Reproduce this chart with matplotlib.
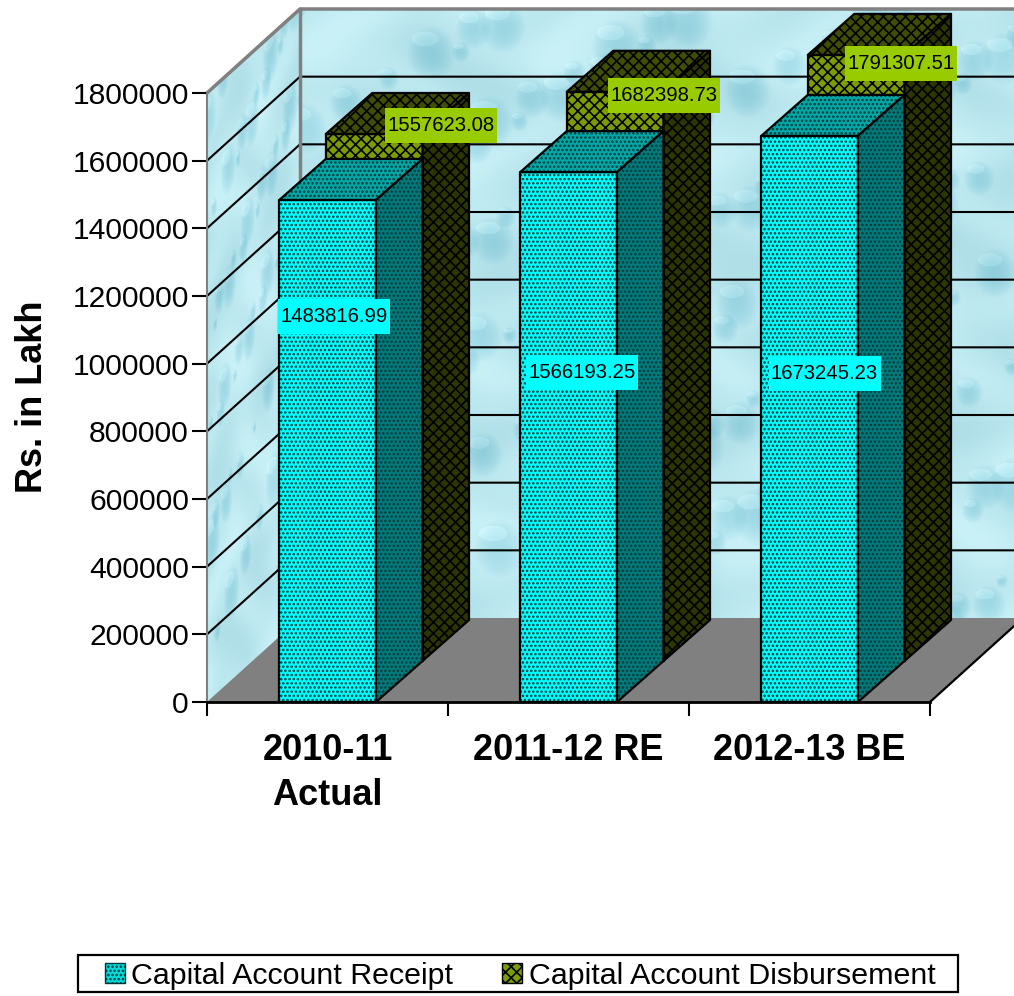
import numpy as np
import matplotlib
matplotlib.use("Agg")
import matplotlib.pyplot as plt
from matplotlib.patches import Polygon, Patch, Rectangle

plt.rcParams['font.family'] = ['Liberation Sans', 'DejaVu Sans']
plt.rcParams['hatch.linewidth'] = 1.2

categories = ["2010-11\nActual", "2011-12 RE", "2012-13 BE"]
receipt = [1483816.99, 1566193.25, 1673245.23]
disbursement = [1557623.08, 1682398.73, 1791307.51]
yticks = [0, 200000, 400000, 600000, 800000, 1000000, 1200000, 1400000, 1600000, 1800000]

# label centres, figure pixels
receipt_label_pos = [(334, 316.5), (582, 372.5), (824.5, 373.5)]
disb_label_pos = [(441, 125.5), (664, 95.5), (901, 63.5)]

W, H = 1014, 996
X0, X1, Y0, Y1 = 207, 930, 702, 93   # plot box in pixels
PX = 3 / (X1 - X0)                   # category units per pixel
PY = 1800000 / (Y0 - Y1)             # value units per pixel
WALL_DX, WALL_DY = 93 * PX, 84 * PY
BAR_DX, BAR_DY = 46.5 * PX, 41 * PY
BAR_W = 96.7 * PX
BAR_GAP = 72.3 * PX


def water(u, v):
    """light blue droplet texture, u and v in pixels"""
    img = np.ones(u.shape + (3,)) * np.array([0.74, 0.91, 0.94])
    # soft mottling
    m = np.sin(u / 37.0 + np.sin(v / 23.0)) * np.sin(v / 29.0 + np.sin(u / 41.0))
    img += m[..., None] * np.array([0.05, 0.035, 0.03])
    for i in range(170):
        cx = (i * 0.61803) % 1 * 760
        cy = (i * 0.75488) % 1 * 640
        r = 6 + (i * 0.4142) % 1 * 20
        d = ((u - cx) / r) ** 2 + ((v - cy) / (r * 1.15)) ** 2
        hi = ((u - cx + r * 0.25) / (r * 0.55)) ** 2 + ((v - cy + r * 0.6) / (r * 0.3)) ** 2
        shade = np.where(d < 1, 1.0 - d, 0.0)
        img -= shade[..., None] * np.array([0.13, 0.07, 0.05])
        img += (hi < 1)[..., None] * np.array([0.05, 0.035, 0.03])
    return np.clip(img, 0, 1)


def background():
    yy, xx = np.mgrid[0:H, 0:W].astype(float)
    out = np.zeros((H, W, 4))
    back = (xx >= 300) & (yy >= 10) & (yy <= 618)
    out[back, :3] = water(xx - 300, yy - 10)[back]
    out[back, 3] = 1
    # left wall is sheared, and squeezed sideways
    shift = (xx - 207) * 84 / 93
    side = (xx >= 207) & (xx < 300) & (yy + shift >= 93) & (yy + shift <= 702)
    out[side, :3] = water((xx - 207) * 3, yy + shift)[side]
    out[side, 3] = 1
    return out


def bar(ax, x, base, top, dx_off, dy_off, colors, dots, ink):
    front, roof, right = colors
    x0 = x + dx_off
    x1 = x0 + BAR_W
    b = base + dy_off
    t = top + dy_off
    faces = [
        ([(x0, b), (x1, b), (x1, t), (x0, t)], front),
        ([(x0, t), (x1, t), (x1 + BAR_DX, t + BAR_DY), (x0 + BAR_DX, t + BAR_DY)], roof),
        ([(x1, b), (x1 + BAR_DX, b + BAR_DY), (x1 + BAR_DX, t + BAR_DY), (x1, t)], right),
    ]
    for pts, col in faces:
        ax.add_patch(Polygon(pts, facecolor=col, edgecolor=ink, hatch=dots, lw=0, clip_on=False))
        ax.add_patch(Polygon(pts, fill=False, edgecolor='black', lw=1.6, joinstyle='round', clip_on=False))


def value_label(val, pos, color):
    px, py = pos
    fig.add_artist(Rectangle(((px - 56) / W, 1 - (py + 17.5) / H), 112 / W, 35 / H,
                             transform=fig.transFigure, facecolor=color, edgecolor='none', zorder=2.5))
    fig.text(px / W, 1 - py / H, f"{val:.2f}", fontsize=14.6, ha='center', va='center', zorder=3)


fig = plt.figure(figsize=(W / 100, H / 100), dpi=100)
fig.figimage(background(), 0, 0, origin='upper', zorder=-1)
ax = fig.add_axes([X0 / W, 1 - Y0 / H, (X1 - X0) / W, (Y0 - Y1) / H])
ax.patch.set_visible(False)
ax.set_xlim(0, 3)
ax.set_ylim(0, 1800000)

# floor
ax.add_patch(Polygon([(0, 0), (WALL_DX, WALL_DY), (3 + WALL_DX, WALL_DY), (3, 0)],
                     facecolor='#808080', edgecolor='none', clip_on=False, zorder=0.5))
ax.plot([3, 3 + WALL_DX], [0, WALL_DY], color='black', lw=1.6, clip_on=False, zorder=0.6)

# wall grid lines
for v in yticks[1:]:
    ax.plot([0, WALL_DX, 3 + WALL_DX], [v, v + WALL_DY, v + WALL_DY],
            color='black', lw=1.5, clip_on=False, zorder=0.7)
# wall edges
top = yticks[-1] + WALL_DY
ax.plot([0, WALL_DX, 3 + WALL_DX], [yticks[-1], top, top], color='#808080', lw=2.5, clip_on=False, zorder=0.8)
ax.plot([WALL_DX, WALL_DX], [WALL_DY, top], color='#808080', lw=2.5, clip_on=False, zorder=0.8)

for i in range(len(categories)):
    x = i + BAR_GAP
    bar(ax, x, 0, disbursement[i], BAR_DX, BAR_DY, ('#7c9c00', '#3f4e00', '#2c3600'), 'xxx', '#000000')
    bar(ax, x, 0, receipt[i], 0, 0, ('#00ffff', '#00a8a8', '#007a7a'), '....', '#003a3a')

for val, pos in zip(receipt, receipt_label_pos):
    value_label(val, pos, '#00ffff')
for val, pos in zip(disbursement, disb_label_pos):
    value_label(val, pos, '#99cc00')

for s in ['top', 'right']:
    ax.spines[s].set_visible(False)
ax.spines['left'].set_color('#808080')
ax.spines['left'].set_linewidth(1.5)
ax.spines['bottom'].set_linewidth(2.0)
ax.spines['bottom'].set_zorder(5)
ax.set_yticks(yticks)
ax.set_yticklabels([str(v) for v in yticks], fontsize=21.6)
ax.tick_params(axis='y', length=11, width=1.5, pad=2)
ax.set_xticks([0, 1, 2, 3])
ax.set_xticklabels([])
ax.tick_params(axis='x', which='major', length=10, width=1.5, direction='out')
ax.set_xticks([0.5, 1.5, 2.5], minor=True)
ax.set_xticklabels(categories, minor=True, fontsize=26, fontweight='bold', linespacing=1.35)
ax.tick_params(axis='x', which='minor', length=0, pad=22.5)

fig.text(33 / W, 1 - 397 / H, "Rs. in Lakh", rotation=90, fontsize=26, fontweight='bold',
         ha='center', va='center')

handles = [
    Patch(facecolor='#00dcdc', edgecolor='#003838', hatch='....', label='Capital Account Receipt'),
    Patch(facecolor='#7c9c00', edgecolor='#000000', hatch='xxx', label='Capital Account Disbursement'),
]
fig.add_artist(Rectangle((78 / W, 1 - 992 / H), 880 / W, 37 / H, transform=fig.transFigure,
                         facecolor='white', edgecolor='black', lw=1.6, zorder=2))
leg = fig.legend(handles=handles, ncol=2, fontsize=21.9, loc='center left',
                 bbox_to_anchor=(105 / W, 1 - 976 / H), bbox_transform=fig.transFigure,
                 frameon=False, borderaxespad=0, borderpad=0, handlelength=0.65, handleheight=0.65,
                 handletextpad=0.22, columnspacing=1.6)
leg.set_zorder(3)

fig.savefig("out.png", dpi=100)
